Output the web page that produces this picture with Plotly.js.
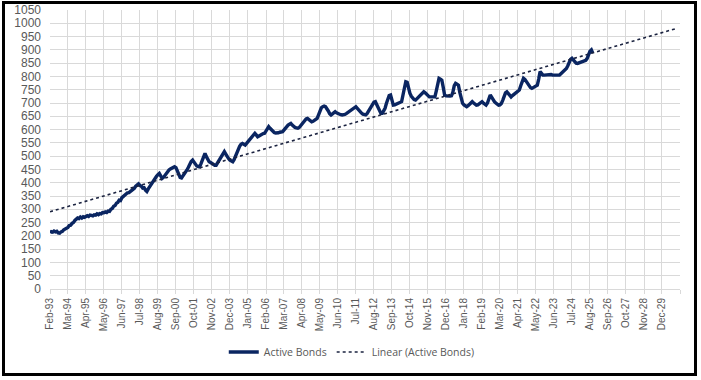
<!DOCTYPE html>
<html>
<head>
<meta charset="utf-8">
<script src="https://cdn.plot.ly/plotly-3.0.1.min.js"></script>
<style>
html,body{margin:0;padding:0;background:#fff;}
#chart{width:701px;height:380px;}
</style>
</head>
<body>
<div id="chart"></div>
<script>
// Monthly values, starting Feb-1993
const activeBonds = [
212,216,214,218,215,217,211,210,215,217,223,225,
230,232,239,240,247,250,258,261,267,265,271,267,
272,270,275,276,273,278,277,275,279,278,283,280,
284,283,288,287,290,288,293,292,300,303,311,314,
323,326,334,333,344,349,355,356,362,363,367,369,
375,379,387,390,396,390,387,380,381,372,367,377,
386,391,398,406,415,424,430,435,426,416,420,428,
436,442,448,452,456,459,460,457,446,432,420,418,
425,434,441,448,458,470,480,485,476,466,463,461,
460,470,486,500,510,498,485,479,476,472,469,466,
466,474,483,492,505,512,517,508,498,491,485,481,
479,487,500,517,527,537,545,548,545,542,548,555,
561,568,576,582,586,580,573,576,580,583,585,586,
595,604,611,605,598,592,589,587,586,588,590,591,
592,598,605,611,617,620,623,617,611,608,606,605,
608,615,622,630,637,640,642,638,633,629,631,636,
640,642,655,670,682,686,688,686,680,670,660,655,
659,664,667,663,660,658,656,655,655,657,660,664,
667,670,674,679,683,686,680,673,667,662,658,655,
655,660,668,678,688,697,703,705,695,680,670,661,
661,668,680,698,715,728,730,705,692,693,696,699,
701,703,705,730,765,780,778,755,736,725,718,713,
711,716,722,728,733,736,742,738,732,726,723,723,
723,722,723,745,780,793,790,786,760,730,727,726,
726,726,727,740,765,774,771,767,740,710,699,693,
688,686,690,695,700,705,700,695,692,693,698,703,
705,700,695,692,700,715,730,722,712,705,700,696,
692,693,698,710,725,738,742,735,727,723,728,733,
736,740,744,749,765,785,793,789,780,772,765,758,
755,758,762,765,767,790,818,812,805,805,806,805,
806,808,807,805,805,806,805,805,805,810,815,820,
824,830,840,855,864,868,862,855,850,849,851,853,
855,857,859,861,868,882,895,900,888
];

const tickLabels = ['Feb-93','Mar-94','Apr-95','May-96','Jun-97','Jul-98','Aug-99','Sep-00','Oct-01','Nov-02','Dec-03','Jan-05','Feb-06','Mar-07','Apr-08','May-09','Jun-10','Jul-11','Aug-12','Sep-13','Oct-14','Nov-15','Dec-16','Jan-18','Feb-19','Mar-20','Apr-21','May-22','Jun-23','Jul-24','Aug-25','Sep-26','Oct-27','Nov-28','Dec-29'];

const seriesNames = ['Active Bonds', 'Linear (Active Bonds)'];
const yTicks = [0,50,100,150,200,250,300,350,400,450,500,550,600,650,700,750,800,850,900,950,1000,1050];

function monthDate(i){
  const y = 1993 + Math.floor((1 + i) / 12);
  const mo = ((1 + i) % 12) + 1;
  return y + '-' + String(mo).padStart(2,'0') + '-01';
}

const xDates = activeBonds.map((_, i) => monthDate(i));

// least-squares linear trend, extended forward
const n = activeBonds.length;
let sx=0, sy=0, sxx=0, sxy=0;
activeBonds.forEach((v,i)=>{ sx+=i; sy+=v; sxx+=i*i; sxy+=i*v; });
const slope = (n*sxy - sx*sy)/(n*sxx - sx*sx);
const icpt = (sy - slope*sx)/n;
const trendEnd = 453;
const trendX = [monthDate(0), monthDate(trendEnd)];
const trendY = [icpt, icpt + slope*trendEnd];

const tickVals = tickLabels.map((_, k) => monthDate(13*k)).concat([monthDate(455)]);
const tickText = tickLabels.concat(['']);

const traces = [
  {x: xDates, y: activeBonds, type:'scatter', mode:'lines', name: seriesNames[0],
   line:{color:'#0a2561', width:3.4}},
  {x: trendX, y: trendY, type:'scatter', mode:'lines', name: seriesNames[1],
   line:{color:'#1b2340', width:1.6, dash:'dot'}}
];

const L=50, R=680, T=10, B=289;
const pw = R-L, ph = B-T;
function px2paperX(p){ return (p-L)/pw; }
function px2paperY(p){ return (B-p)/ph; }

const layout = {
  width:701, height:380,
  margin:{l:L, r:701-R, t:T, b:380-B, pad:0},
  paper_bgcolor:'#ffffff', plot_bgcolor:'#ffffff',
  showlegend:true,
  legend:{orientation:'h', x:0.479, xanchor:'center', y:px2paperY(352), yanchor:'middle',
          font:{family:'Open Sans, Arial, sans-serif', size:10.5, color:'#595959'},
          bgcolor:'rgba(0,0,0,0)', itemwidth:30, entrywidth:0},
  xaxis:{type:'date', range:[monthDate(0), monthDate(455)], tickmode:'array',
         tickvals:tickVals, ticktext:tickText, tickangle:-90,
         tickfont:{family:'Liberation Sans Narrow, Arial Narrow, Arial, sans-serif', size:10, color:'#595959'},
         showgrid:true, gridcolor:'#d9d9d9', gridwidth:1,
         showline:true, linecolor:'#d9d9d9', linewidth:1,
         ticks:'outside', ticklen:4, tickcolor:'#d9d9d9',
         zeroline:false, automargin:false, fixedrange:true},
  yaxis:{range:[0,1050], tickmode:'array', tickvals:yTicks,
         tickfont:{family:'Liberation Sans Narrow, Arial Narrow, Arial, sans-serif', size:12, color:'#595959'},
         showgrid:true, gridcolor:'#d9d9d9', gridwidth:1,
         showline:false, zeroline:false, ticks:'', ticklabelstandoff:8,
         automargin:false, fixedrange:true},
  shapes:[
    {type:'rect', xref:'paper', yref:'paper',
     x0:px2paperX(3.5), x1:px2paperX(695.5), y0:px2paperY(374.5), y1:px2paperY(2.5),
     line:{color:'#000000', width:3}, fillcolor:'rgba(0,0,0,0)', layer:'above'}
  ]
};

Plotly.newPlot('chart', traces, layout, {staticPlot:true, displayModeBar:false});
</script>
</body>
</html>
